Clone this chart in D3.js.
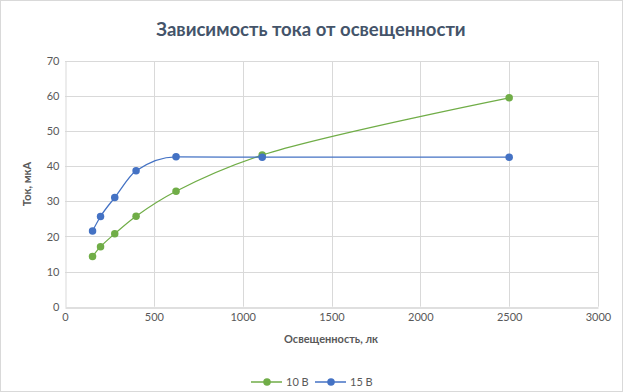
<!DOCTYPE html>
<html>
<head>
<meta charset="utf-8">
<script src="https://d3js.org/d3.v7.min.js"></script>
<style>
  body { margin: 0; background: #fff; }
  text { font-family: Lato, "Open Sans", sans-serif; }
</style>
</head>
<body>
<svg width="623" height="392"></svg>
<script>
// data
const lux10 = [155, 200, 280, 400, 625, 1110, 2500];
const cur10 = [14.3, 17.1, 20.8, 25.8, 32.9, 43.2, 59.5];
const lux15 = [155, 200, 280, 400, 625, 1110, 2500];
const cur15 = [21.6, 25.7, 31.1, 38.7, 42.7, 42.6, 42.6];
const seriesNames = ["10 В", "15 В"];
const seriesColors = ["#70AD47", "#4472C4"];
const xTicks = [0, 500, 1000, 1500, 2000, 2500, 3000];
const yTicks = [0, 10, 20, 30, 40, 50, 60, 70];

const svg = d3.select("svg");
const margin = { left: 65, right: 25, top: 61, bottom: 85 };
const W = 623, H = 392;

svg.append("rect")
    .attr("x", 0.5).attr("y", 0.5)
    .attr("width", W - 1).attr("height", H - 1)
    .attr("fill", "#fff").attr("stroke", "#D9D9D9");

const x = d3.scaleLinear().domain([0, 3000]).range([margin.left, 598]);
const y = d3.scaleLinear().domain([0, 70]).range([306.7, margin.top]);

// grid
svg.append("g").selectAll("line.h")
    .data(yTicks.slice(1))
    .join("line")
    .attr("x1", x(0)).attr("x2", x(3000))
    .attr("y1", d => Math.round(y(d)) + 0.5).attr("y2", d => Math.round(y(d)) + 0.5)
    .attr("stroke", "#D9D9D9");
svg.append("g").selectAll("line.v")
    .data(xTicks.slice(1))
    .join("line")
    .attr("y1", y(0)).attr("y2", y(70))
    .attr("x1", d => Math.round(x(d)) + 0.5).attr("x2", d => Math.round(x(d)) + 0.5)
    .attr("stroke", "#D9D9D9");

// axes
const xAxis = svg.append("g")
    .attr("transform", `translate(0,${Math.round(y(0)) + 0.5})`)
    .call(d3.axisBottom(x).tickValues(xTicks).tickFormat(d3.format("d")).tickSize(0).tickPadding(6));
const yAxis = svg.append("g")
    .attr("transform", `translate(${Math.round(x(0)) + 0.5},0)`)
    .call(d3.axisLeft(y).tickValues(yTicks).tickFormat(d3.format("d")).tickSize(0).tickPadding(6));
[xAxis, yAxis].forEach(a => {
    a.select(".domain").attr("stroke", "#BFBFBF");
    a.selectAll("text").attr("fill", "#595959").attr("font-size", 11)
        .attr("font-family", "Lato, sans-serif");
});
yAxis.select(".domain").attr("stroke", "#D9D9D9");

// lines: green smoothed like excel, blue kept flat on the plateau
const curves = [d3.curveCatmullRom.alpha(0.5), d3.curveMonotoneX];

const series = [
    d3.zip(lux10, cur10),
    d3.zip(lux15, cur15)
];

series.forEach((s, i) => {
    const line = d3.line()
        .x(d => x(d[0])).y(d => y(d[1]))
        .curve(curves[i]);
    svg.append("path")
        .datum(s)
        .attr("d", line)
        .attr("fill", "none")
        .attr("stroke", seriesColors[i])
        .attr("stroke-width", 1.25);
    svg.append("g").selectAll("circle")
        .data(s)
        .join("circle")
        .attr("cx", d => x(d[0])).attr("cy", d => y(d[1]))
        .attr("r", 3.75)
        .attr("fill", seriesColors[i]);
});

// title
svg.append("text")
    .attr("x", 311).attr("y", 36)
    .attr("text-anchor", "middle")
    .attr("font-size", 18.5).attr("font-weight", "bold")
    .attr("fill", "#44546A")
    .text("Зависимость тока от освещенности");

svg.append("text")
    .attr("x", 331).attr("y", 343)
    .attr("text-anchor", "middle")
    .attr("font-size", 11).attr("font-weight", "bold")
    .attr("fill", "#595959")
    .text("Освещенность, лк");

svg.append("text")
    .attr("transform", "translate(31,184) rotate(-90)")
    .attr("text-anchor", "middle")
    .attr("font-size", 11).attr("font-weight", "bold")
    .attr("fill", "#595959")
    .text("Ток, мкА");

// legend
const legX = [251, 315];
seriesNames.forEach((name, i) => {
    const g = svg.append("g").attr("transform", `translate(${legX[i]},382)`);
    g.append("line").attr("x1", 0).attr("x2", 31)
        .attr("stroke", seriesColors[i]).attr("stroke-width", 1.5);
    g.append("circle").attr("cx", 16).attr("r", 3.75).attr("fill", seriesColors[i]);
    g.append("text").attr("x", 35).attr("y", 4)
        .attr("font-size", 11).attr("fill", "#595959").text(name);
});
</script>
</body>
</html>
